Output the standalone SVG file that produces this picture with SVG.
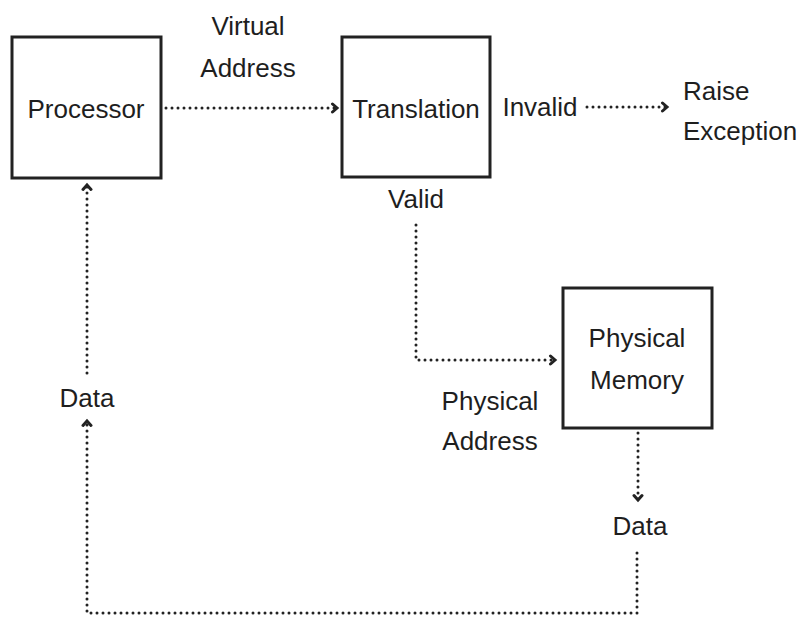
<svg xmlns="http://www.w3.org/2000/svg" width="798" height="617" viewBox="0 0 798 617">
<style>
.box{fill:#fff;stroke:#222;stroke-width:3}
.t{font-family:"Liberation Sans",Arial,sans-serif;font-size:26px;fill:#1e1e1e;text-anchor:middle}
.l{text-anchor:start}
.c{fill:none;stroke:#222;stroke-width:3;stroke-dasharray:0 6;stroke-linecap:round}
</style>
<defs>
<marker id="ah" markerUnits="userSpaceOnUse" markerWidth="12" markerHeight="12" viewBox="-7 -6 8 12" refX="0" refY="0" orient="auto">
<path d="M-4.5,-4 L0,0 L-4.5,4" fill="none" stroke="#222" stroke-width="3" stroke-linecap="round" stroke-linejoin="miter"/>
</marker>
</defs>
<rect width="798" height="617" fill="#fff"/>
<g id="processor">
<rect class="box" x="12" y="37" width="149" height="141"/>
<text class="t" x="86" y="118">Processor</text>
</g>
<g id="translation">
<rect class="box" x="342" y="37" width="148" height="140"/>
<text class="t" x="416" y="118">Translation</text>
</g>
<g id="memory">
<rect class="box" x="563" y="288" width="149" height="140"/>
<text class="t" x="637" y="347">Physical</text>
<text class="t" x="637" y="389">Memory</text>
</g>
<g id="exception">
<text class="t l" x="683" y="100">Raise</text>
<text class="t l" x="683" y="140">Exception</text>
</g>
<g id="labels">
<text class="t" x="248" y="35">Virtual</text>
<text class="t" x="248" y="77">Address</text>
<text class="t" x="540" y="116">Invalid</text>
<text class="t" x="416" y="208">Valid</text>
<text class="t" x="490" y="410">Physical</text>
<text class="t" x="490" y="450">Address</text>
<text class="t" x="87" y="407">Data</text>
<text class="t" x="640" y="535">Data</text>
</g>
<g id="connectors">
<path class="c" d="M166,108 H337" marker-end="url(#ah)"/>
<path class="c" d="M587,107 H667" marker-end="url(#ah)"/>
<path class="c" d="M416,225 V360 H555" marker-end="url(#ah)"/>
<path class="c" d="M638,433 V500" marker-end="url(#ah)"/>
<path class="c" d="M637,553 V613 H87 V421" marker-end="url(#ah)"/>
<path class="c" d="M87,373 V185" marker-end="url(#ah)"/>
</g>
</svg>
